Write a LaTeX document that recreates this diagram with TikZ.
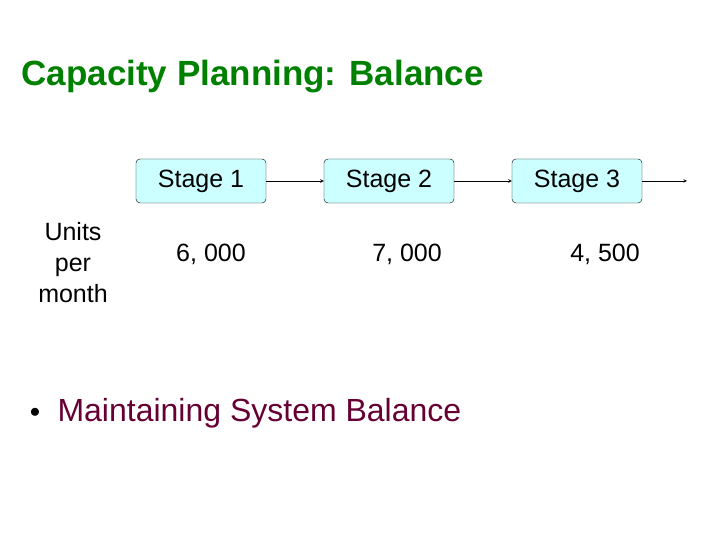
\documentclass[tikz,border=0pt]{standalone}
\usepackage{fontspec}
\setmainfont{Liberation Sans}
\usetikzlibrary{positioning}
\definecolor{titlegreen}{RGB}{0,128,0}
\definecolor{boxcyan}{RGB}{204,255,255}
\definecolor{bulletplum}{RGB}{102,0,51}
\tikzset{
    SB/.style ={rectangle,rounded corners=4pt,minimum width = 130pt, minimum height = 44pt, draw, fill=boxcyan, font=\fontsize{25}{30}\selectfont},
    NU/.style ={font=\fontsize{25}{31}\selectfont},
    AR/.style ={->,>=stealth,semithick}}
\begin{document}
\begin{tikzpicture}[x=1pt,y=1pt]
        \useasboundingbox (0,0) rectangle (720,540);
        \node[anchor=west,text=titlegreen,font=\bfseries\fontsize{35}{40}\selectfont] (title) at(18,463){Capacity Planning: Balance};
        \node[SB] (s1) at(201,359){Stage 1};
        \node[SB] (s2) at(389,359){Stage 2};
        \node[SB] (s3) at(577,359){Stage 3};
        \coordinate (end) at(687,359);
        \draw[AR] (s1) -- (s2);
        \draw[AR] (s2) -- (s3);
        \draw[AR] (s3) -- (end);
        \node[NU,align=center] (units) at(73,277){Units\\per\\month};
        \node[NU] (n1) at(211,286){6, 000};
        \node[NU] (n2) at(407,286){7, 000};
        \node[NU] (n3) at(605,286){4, 500};
        \node[text=black,font=\fontsize{20}{24}\selectfont] (dot) at(35,127){$\bullet$};
        \node[anchor=west,text=bulletplum,font=\fontsize{32}{38}\selectfont] (point) at(54,127){Maintaining System Balance};
    \end{tikzpicture}
\end{document}
